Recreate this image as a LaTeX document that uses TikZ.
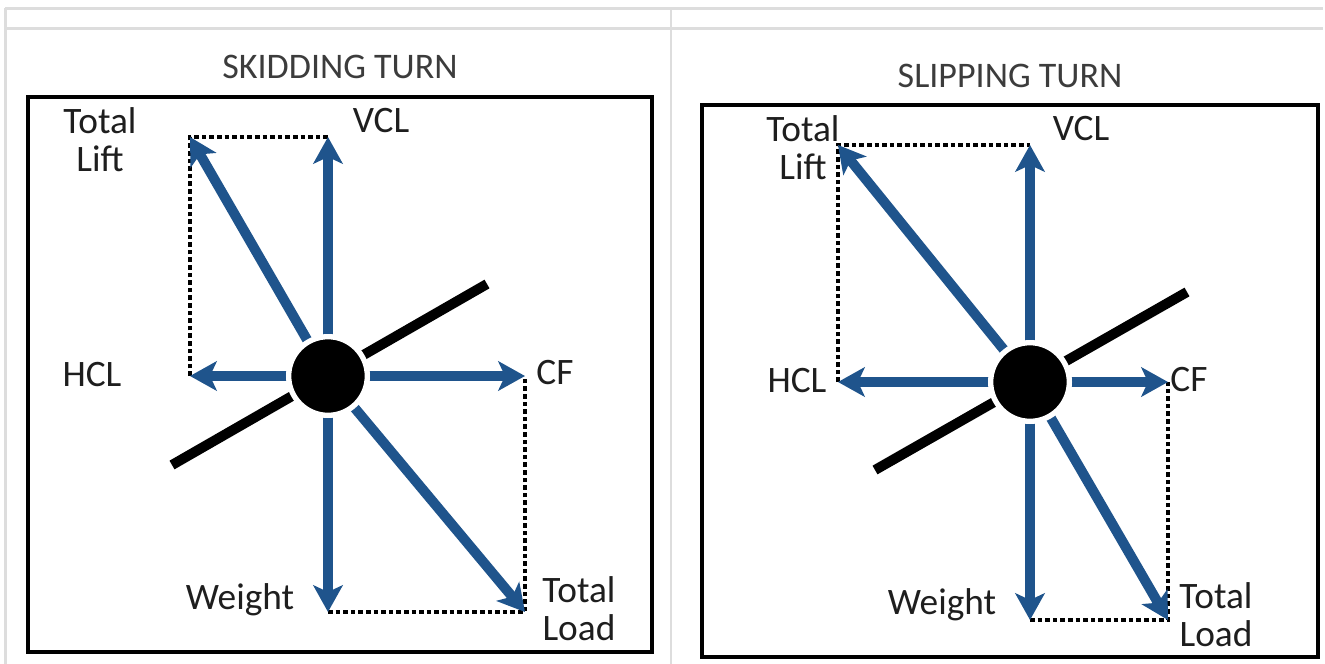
\documentclass[tikz,border=0pt]{standalone}
\usepackage{fontspec}
\setmainfont{Carlito}
\usetikzlibrary{arrows.meta}

\definecolor{forceblue}{RGB}{31,84,140}
\definecolor{gridgray}{RGB}{221,221,221}
\definecolor{titlegray}{RGB}{60,60,60}
\definecolor{labelgray}{RGB}{30,30,30}

\tikzset{
  force/.style={forceblue,line width=7.5pt,-{Stealth[length=20pt,width=22pt,inset=5pt]}},
  comp/.style={black,line width=2.7pt,dash pattern=on 3.5pt off 2.2pt},
  rotor/.style={black,line width=7.5pt},
  hub/.style={circle,fill=black,draw=white,line width=4pt,minimum size=59pt,inner sep=0pt},
  frame/.style={black,line width=3pt},
  lbl/.style={labelgray,font=\fontsize{28}{28.5}\selectfont,align=center,inner sep=0pt},
  ttl/.style={titlegray,font=\fontsize{27}{29}\selectfont,inner sep=0pt}
}

\begin{document}
\begin{tikzpicture}[x=0.75pt,y=-0.75pt]
\useasboundingbox (0,0) rectangle (1325,664);

% Table rules
\draw[gridgray,line width=1.6pt] (5,8.5) -- (1323,8.5);
\draw[gridgray,line width=2.4pt] (5,28.5) -- (1323,28.5);
\draw[gridgray,line width=1.6pt] (5.5,8) -- (5.5,664);
\draw[gridgray,line width=1.6pt] (671,8) -- (671,664);

% Skidding turn
\node[ttl] (titleL) at (340,67) {SKIDDING TURN};
\draw[frame] (28,97) rectangle (652,652);
\coordinate (cL) at (328,376);
\coordinate (vclL) at (328,137);
\coordinate (liftL) at (190,137);
\coordinate (hclL) at (190,376);
\coordinate (cfL) at (525,376);
\coordinate (wL) at (328,612);
\coordinate (loadL) at (525,612);
\coordinate (rotAL) at (172,465);
\coordinate (rotBL) at (487,284);

\draw[comp] (wL) -- (loadL) -- (cfL);
\draw[comp] (hclL) -- (liftL) -- (vclL);
\draw[rotor] (rotAL) -- (rotBL);
\draw[force] (cL) -- (vclL);
\draw[force] (cL) -- (liftL);
\draw[force] (cL) -- (hclL);
\draw[force] (cL) -- (cfL);
\draw[force] (cL) -- (wL);
\draw[force] (cL) -- (loadL);
\node[hub] (hubL) at (cL) {};

\node[lbl] (liftLabL) at (100,140) {Total\\Lift};
\node[lbl] (vclLabL) at (381,121) {VCL};
\node[lbl] (hclLabL) at (92,375) {HCL};
\node[lbl] (cfLabL) at (555,373) {CF};
\node[lbl] (wLabL) at (240,600) {Weight};
\node[lbl] (loadLabL) at (579,609) {Total\\Load};

% Slipping turn
\node[ttl] (titleR) at (1010,76) {SLIPPING TURN};
\draw[frame] (702,105) rectangle (1318,657);
\coordinate (cR) at (1030,382);
\coordinate (vclR) at (1030,145);
\coordinate (liftR) at (838,145);
\coordinate (hclR) at (838,382);
\coordinate (cfR) at (1168,382);
\coordinate (wR) at (1030,620);
\coordinate (loadR) at (1168,620);
\coordinate (rotAR) at (875,470);
\coordinate (rotBR) at (1187,292);

\draw[comp] (wR) -- (loadR) -- (cfR);
\draw[comp] (hclR) -- (liftR) -- (vclR);
\draw[rotor] (rotAR) -- (rotBR);
\draw[force] (cR) -- (vclR);
\draw[force] (cR) -- (liftR);
\draw[force] (cR) -- (hclR);
\draw[force] (cR) -- (cfR);
\draw[force] (cR) -- (wR);
\draw[force] (cR) -- (loadR);
\node[hub] (hubR) at (cR) {};

\node[lbl] (liftLabR) at (803,148) {Total\\Lift};
\node[lbl] (vclLabR) at (1081,129) {VCL};
\node[lbl] (hclLabR) at (797,381) {HCL};
\node[lbl] (cfLabR) at (1189,380) {CF};
\node[lbl] (wLabR) at (942,605) {Weight};
\node[lbl] (loadLabR) at (1216,615) {Total\\Load};
\end{tikzpicture}
\end{document}
